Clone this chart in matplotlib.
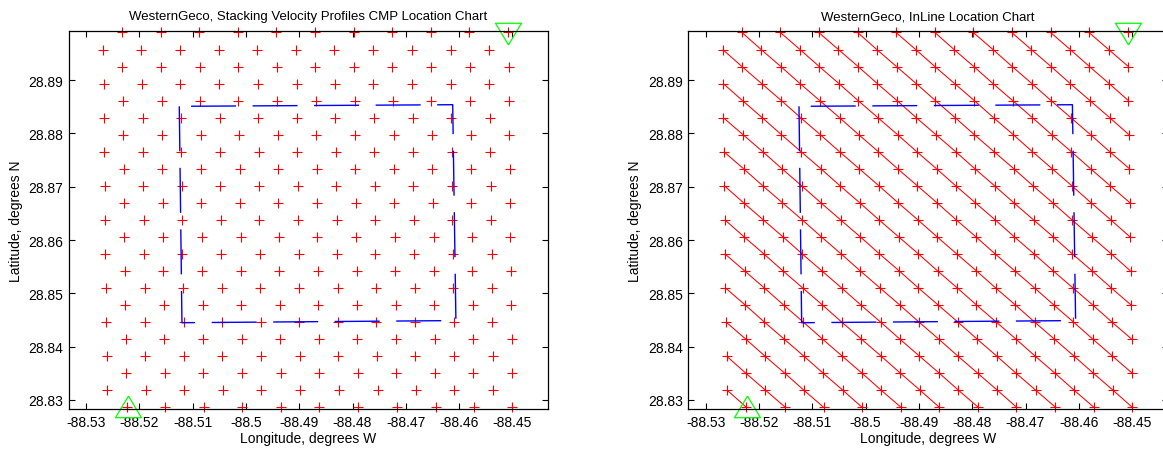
import matplotlib
matplotlib.use("Agg")
import matplotlib.pyplot as plt
from matplotlib.collections import LineCollection

plt.rcParams['font.family'] = ['Liberation Sans', 'DejaVu Sans']
plt.rcParams['axes.unicode_minus'] = False
plt.rcParams['lines.scale_dashes'] = False

# CMP grid, one row per latitude from north to south
row_lat = [28.89895, 28.89575, 28.89256, 28.88936, 28.88617, 28.88297,
           28.87978, 28.87658, 28.87339, 28.87019, 28.86700, 28.86380,
           28.86061, 28.85741, 28.85422, 28.85102, 28.84783, 28.84463,
           28.84144, 28.83824, 28.83505, 28.83185, 28.82866]

row_lon = [
    [-88.5232, -88.5160, -88.5088, -88.5015, -88.4943, -88.4870, -88.4798, -88.4726, -88.4653, -88.4581, -88.4508],
    [-88.5268, -88.5196, -88.5123, -88.5051, -88.4979, -88.4906, -88.4834, -88.4761, -88.4689, -88.4616, -88.4544],
    [-88.5232, -88.5159, -88.5087, -88.5014, -88.4942, -88.4870, -88.4797, -88.4725, -88.4652, -88.4580, -88.4507],
    [-88.5267, -88.5195, -88.5123, -88.5050, -88.4978, -88.4905, -88.4833, -88.4761, -88.4688, -88.4616, -88.4543],
    [-88.5231, -88.5158, -88.5086, -88.5014, -88.4941, -88.4869, -88.4796, -88.4724, -88.4652, -88.4579, -88.4507],
    [-88.5267, -88.5194, -88.5122, -88.5049, -88.4977, -88.4905, -88.4832, -88.4760, -88.4687, -88.4615, -88.4542],
    [-88.5230, -88.5158, -88.5085, -88.5013, -88.4940, -88.4868, -88.4796, -88.4723, -88.4651, -88.4578, -88.4506],
    [-88.5266, -88.5193, -88.5121, -88.5049, -88.4976, -88.4904, -88.4831, -88.4759, -88.4687, -88.4614, -88.4542],
    [-88.5229, -88.5157, -88.5084, -88.5012, -88.4940, -88.4867, -88.4795, -88.4722, -88.4650, -88.4578, -88.4505],
    [-88.5265, -88.5193, -88.5120, -88.5048, -88.4975, -88.4903, -88.4831, -88.4758, -88.4686, -88.4613, -88.4541],
    [-88.5229, -88.5156, -88.5084, -88.5011, -88.4939, -88.4866, -88.4794, -88.4722, -88.4649, -88.4577, -88.4504],
    [-88.5264, -88.5192, -88.5119, -88.5047, -88.4975, -88.4902, -88.4830, -88.4757, -88.4685, -88.4613, -88.4540],
    [-88.5228, -88.5155, -88.5083, -88.5010, -88.4938, -88.4866, -88.4793, -88.4721, -88.4648, -88.4576, -88.4504],
    [-88.5264, -88.5191, -88.5119, -88.5046, -88.4974, -88.4901, -88.4829, -88.4757, -88.4684, -88.4612, -88.4539],
    [-88.5227, -88.5155, -88.5082, -88.5010, -88.4937, -88.4865, -88.4792, -88.4720, -88.4648, -88.4575, -88.4503],
    [-88.5263, -88.5190, -88.5118, -88.5045, -88.4973, -88.4901, -88.4828, -88.4756, -88.4683, -88.4611, -88.4539],
    [-88.5226, -88.5154, -88.5081, -88.5009, -88.4936, -88.4864, -88.4792, -88.4719, -88.4647, -88.4574, -88.4502],
    [-88.5262, -88.5190, -88.5117, -88.5045, -88.4972, -88.4900, -88.4827, -88.4755, -88.4683, -88.4610, -88.4538],
    [-88.5225, -88.5153, -88.5081, -88.5008, -88.4936, -88.4863, -88.4791, -88.4718, -88.4646, -88.4574, -88.4501],
    [-88.5261, -88.5189, -88.5116, -88.5044, -88.4971, -88.4899, -88.4827, -88.4754, -88.4682, -88.4609, -88.4537],
    [-88.5225, -88.5152, -88.5080, -88.5007, -88.4935, -88.4862, -88.4790, -88.4718, -88.4645, -88.4573, -88.4500],
    [-88.5260, -88.5188, -88.5116, -88.5043, -88.4971, -88.4898, -88.4826, -88.4753, -88.4681, -88.4609, -88.4536],
    [-88.5224, -88.5151, -88.5079, -88.5007, -88.4934, -88.4862, -88.4789, -88.4717, -88.4644, -88.4572, -88.4500],
]

# velocity analysis area outline (closed)
area_lon = [-88.5125, -88.5120, -88.4606, -88.4612, -88.5125]
area_lat = [28.8851, 28.8445, 28.8449, 28.8854, 28.8851]

# survey end points
start_lon, start_lat = [-88.5222], [28.8282]
end_lon, end_lat = [-88.4508], [28.8995]

xticks = [-88.53, -88.52, -88.51, -88.50, -88.49, -88.48, -88.47, -88.46, -88.45]
yticks = [28.83, 28.84, 28.85, 28.86, 28.87, 28.88, 28.89]

titles = ['WesternGeco, Stacking Velocity Profiles CMP Location Chart',
          'WesternGeco, InLine Location Chart']

# inline segments: each CMP joins its south-east neighbour in the next row
segs = []
for r in range(len(row_lat) - 1):
    for k in range(len(row_lon[r])):
        nk = k + 1 if r % 2 == 0 else k
        if nk < len(row_lon[r + 1]):
            segs.append([(row_lon[r][k], row_lat[r]),
                         (row_lon[r + 1][nk], row_lat[r + 1])])

all_lon = [v for row in row_lon for v in row]
all_lat = [row_lat[r] for r in range(len(row_lon)) for _ in row_lon[r]]

tri_up = [(0, 14.47), (-13, -7.23), (13, -7.23), (0, 14.47)]
tri_down = [(0, -14.47), (-13, 7.23), (13, 7.23), (0, -14.47)]

fig = plt.figure(figsize=(11.63, 4.52), dpi=100)
ax1 = fig.add_axes([0.05907, 0.09292, 0.41213, 0.83628])
ax2 = fig.add_axes([0.59192, 0.09292, 0.41213, 0.83628])

for ax, title, inlines in [(ax1, titles[0], False), (ax2, titles[1], True)]:
    if inlines:
        ax.add_collection(LineCollection(segs, colors='red', linewidths=0.75))
    ax.plot(all_lon, all_lat, linestyle='none', marker='+', color='red',
            markersize=7.5, markeredgewidth=0.8, clip_on=False)
    ax.plot(area_lon, area_lat, color='blue', linewidth=1.0, dashes=(32.4, 11.9))
    ax.plot(start_lon, start_lat, linestyle='none', marker=tri_up, markersize=20.8,
            markerfacecolor='none', markeredgecolor='#00ff00', markeredgewidth=0.9,
            clip_on=False)
    ax.plot(end_lon, end_lat, linestyle='none', marker=tri_down, markersize=20.8,
            markerfacecolor='none', markeredgecolor='#00ff00', markeredgewidth=0.9,
            clip_on=False)

    ax.set_xlim(-88.53325, -88.44332)
    ax.set_ylim(28.82831, 28.89923)
    ax.set_xticks(xticks)
    ax.set_xticklabels([f'{v:g}' for v in xticks])
    ax.set_yticks(yticks)
    ax.set_yticklabels([f'{v:g}' for v in yticks])
    ax.tick_params(direction='in', top=True, right=True, length=4, width=0.8,
                   labelsize=10, pad=4)
    for s in ax.spines.values():
        s.set_linewidth(0.9)
    ax.set_title(title, fontsize=9.5, pad=8.5)
    ax.set_xlabel('Longitude, degrees W', fontsize=10, labelpad=2)
    ax.set_ylabel('Latitude, degrees N', fontsize=10, labelpad=4)

fig.savefig('out.png', dpi=100)
